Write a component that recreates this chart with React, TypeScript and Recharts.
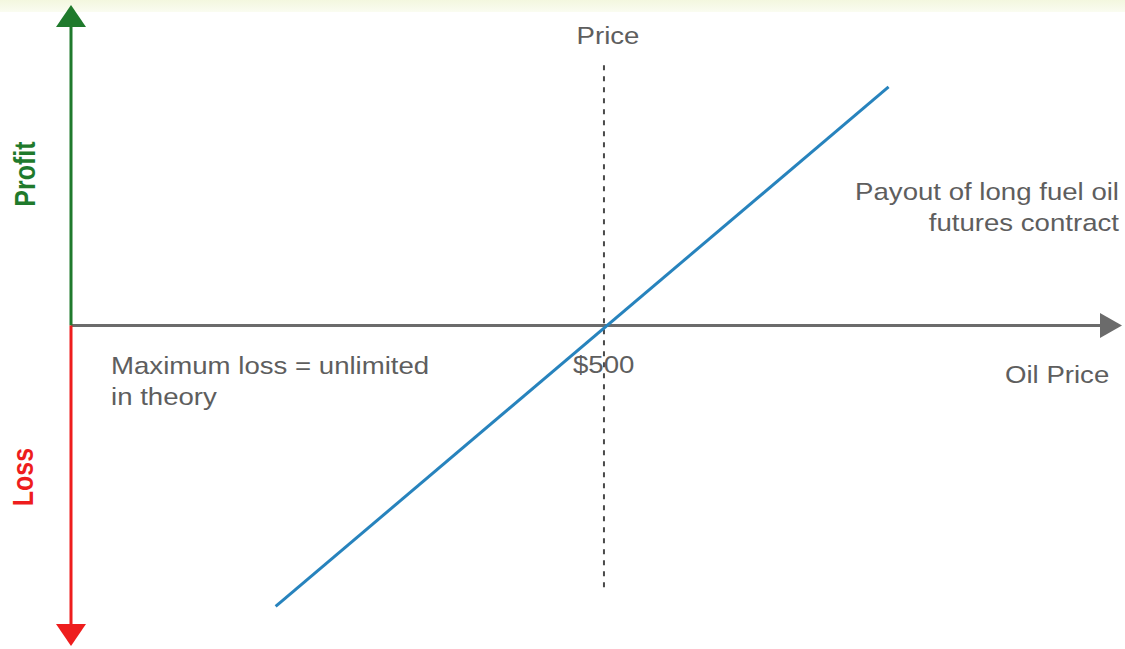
import { LineChart, Line, XAxis, YAxis, ReferenceLine } from "recharts";

// Long futures payoff: price vs profit/loss, strike at $500.
const prices = [192, 767];
const payoffs = [-312, 265];
const STRIKE = 500;
const PRICE_DOMAIN: [number, number] = [0, 986];
const PAYOFF_DOMAIN: [number, number] = [-356, 356];
// extent of the dashed strike marker, in payoff units
const STRIKE_SPAN = [289, -295];

const data = prices.map((price, i) => ({ price, payoff: payoffs[i] }));

const W = 1125;
const H = 649;
const FONT = "'Liberation Sans', Arial, sans-serif";
const TEXT = "#5e5e5e";
const GREEN = "#1f7a2c";
const RED = "#ee1d1d";
const AXIS = "#6b6b6b";
const LINE = "#2783bd";
// labels in the original are set slightly wide
const STRETCH = 1.15;

type Seg = { x1?: number; y1?: number; x2?: number; y2?: number };

// line from (x1,y1) to (x2,y2) with a solid triangular head at (x2,y2)
function arrow(color: string, head = 22, half = 15) {
  return (p: Seg) => {
    const x1 = Number(p.x1), y1 = Number(p.y1), x2 = Number(p.x2), y2 = Number(p.y2);
    const len = Math.hypot(x2 - x1, y2 - y1) || 1;
    const ux = (x2 - x1) / len, uy = (y2 - y1) / len;
    const bx = x2 - ux * head, by = y2 - uy * head;
    const pts = [
      [x2, y2],
      [bx - uy * half, by + ux * half],
      [bx + uy * half, by - ux * half],
    ]
      .map((q) => q.join(","))
      .join(" ");
    return (
      <g>
        <line x1={x1} y1={y1} x2={bx} y2={by} stroke={color} strokeWidth={3} />
        <polygon points={pts} fill={color} />
      </g>
    );
  };
}

function Label({ x, y, children, anchor = "start" }: { x: number; y: number; children: string; anchor?: string }) {
  return (
    <text
      transform={`translate(${x},${y}) scale(${STRETCH},1)`}
      textAnchor={anchor}
      fontFamily={FONT}
      fontSize={24}
      fill={TEXT}
    >
      {children}
    </text>
  );
}

function SideLabel({ x, y, color, children }: { x: number; y: number; color: string; children: string }) {
  return (
    <text
      transform={`translate(${x},${y}) scale(${STRETCH},1) rotate(-90)`}
      textAnchor="middle"
      dominantBaseline="central"
      fontFamily={FONT}
      fontWeight="bold"
      fontSize={25}
      fill={color}
    >
      {children}
    </text>
  );
}

export default function App() {
  return (
    <div style={{ position: "fixed", left: 0, top: 0, width: W, height: H, background: "#fff" }}>
      <div
        style={{
          position: "absolute",
          left: 0,
          top: 0,
          width: W,
          height: 12,
          background: "linear-gradient(#f3f7df, #fafcf1)",
        }}
      />
      <LineChart
        width={W}
        height={H}
        data={data}
        margin={{ top: 5, right: 3, bottom: 3, left: 71 }}
        style={{ position: "absolute", left: 0, top: 0 }}
      >
        <XAxis dataKey="price" type="number" domain={PRICE_DOMAIN} hide />
        <YAxis type="number" domain={PAYOFF_DOMAIN} hide />
        <ReferenceLine
          segment={[
            { x: STRIKE, y: STRIKE_SPAN[0] },
            { x: STRIKE, y: STRIKE_SPAN[1] },
          ]}
          stroke="#4a4a4a"
          strokeWidth={2}
          strokeDasharray="5 6"
        />
        <ReferenceLine
          segment={[
            { x: PRICE_DOMAIN[0], y: 0 },
            { x: PRICE_DOMAIN[1], y: 0 },
          ]}
          shape={arrow(AXIS, 22, 12.5)}
        />
        <ReferenceLine
          segment={[
            { x: PRICE_DOMAIN[0], y: 0 },
            { x: PRICE_DOMAIN[0], y: PAYOFF_DOMAIN[1] },
          ]}
          shape={arrow(GREEN)}
        />
        <ReferenceLine
          segment={[
            { x: PRICE_DOMAIN[0], y: 0 },
            { x: PRICE_DOMAIN[0], y: PAYOFF_DOMAIN[0] },
          ]}
          shape={arrow(RED)}
        />
        <Line
          dataKey="payoff"
          stroke={LINE}
          strokeWidth={3}
          dot={false}
          isAnimationActive={false}
        />
      </LineChart>
      <svg
        width={W}
        height={H}
        style={{ position: "absolute", left: 0, top: 0, pointerEvents: "none" }}
      >
        <Label x={608} y={44} anchor="middle">Price</Label>
        <Label x={1119} y={200} anchor="end">Payout of long fuel oil</Label>
        <Label x={1119} y={231} anchor="end">futures contract</Label>
        <Label x={1005} y={383}>Oil Price</Label>
        <Label x={573} y={373}>$500</Label>
        <Label x={111} y={374}>Maximum loss = unlimited</Label>
        <Label x={111} y={405}>in theory</Label>
        <SideLabel x={25} y={174} color={GREEN}>Profit</SideLabel>
        <SideLabel x={23} y={477} color={RED}>Loss</SideLabel>
      </svg>
    </div>
  );
}
